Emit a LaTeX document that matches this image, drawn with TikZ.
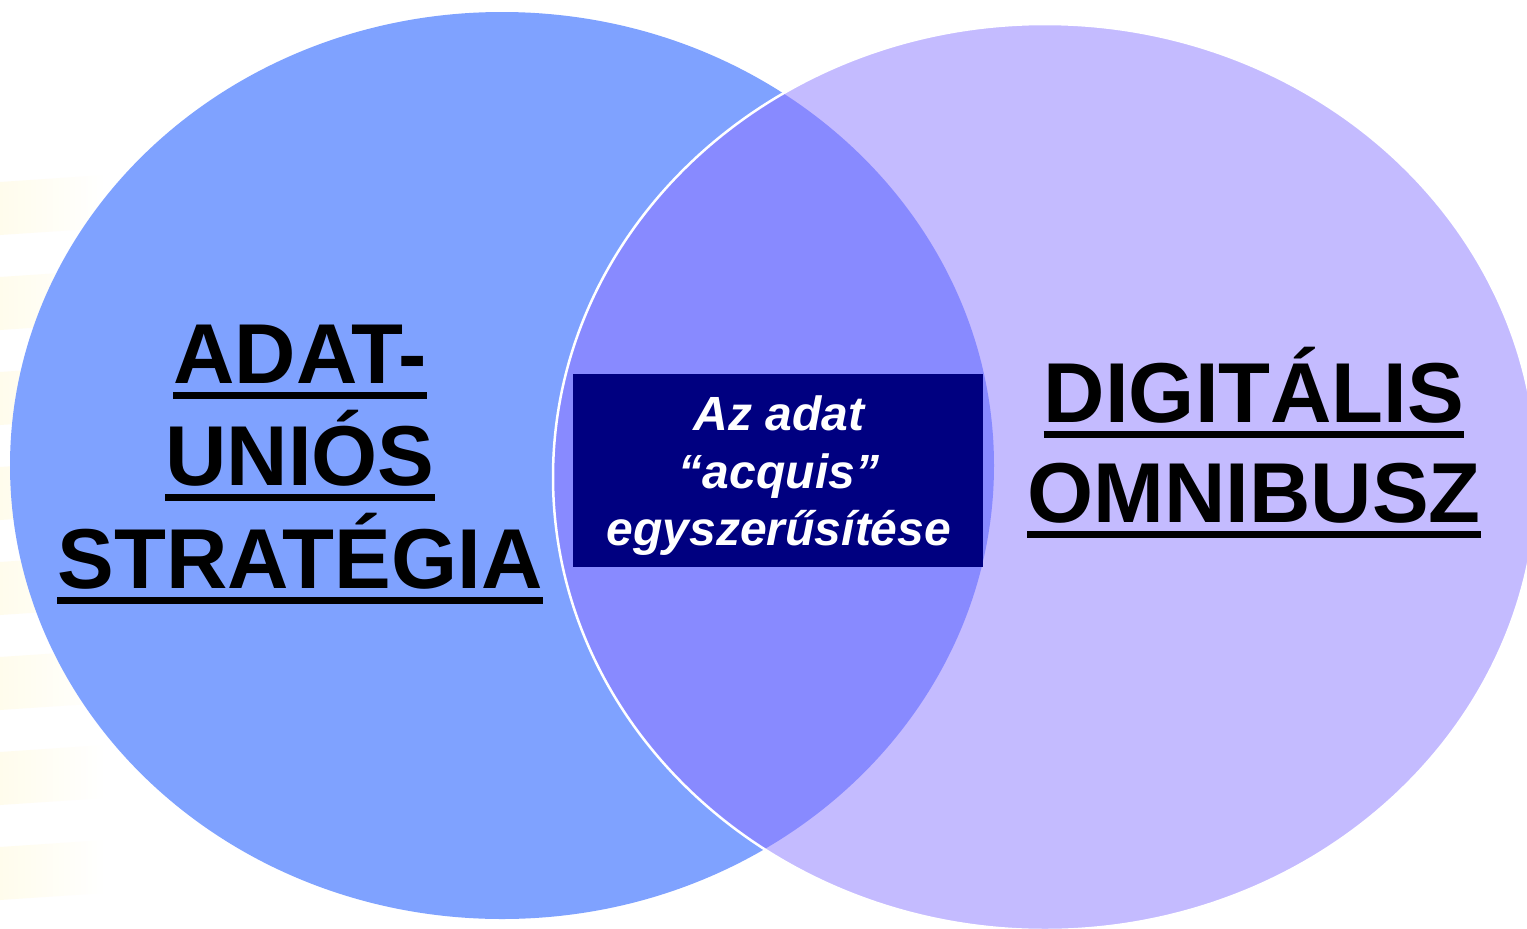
\documentclass[tikz,border=0pt]{standalone}
\usepackage{fontspec}
\setmainfont{Liberation Sans}
\definecolor{leftblue}{RGB}{127,162,255}
\definecolor{rightlilac}{RGB}{196,187,255}
\definecolor{overlapblue}{RGB}{136,138,255}
\definecolor{boxnavy}{RGB}{0,0,128}
\definecolor{stripeyellow}{RGB}{255,252,236}
\tikzset{
  bigtext/.style={anchor=base, inner sep=0pt, text=black,
    font=\fontsize{85}{100}\selectfont\bfseries},
  smalltext/.style={anchor=base, inner sep=0pt, text=white,
    font=\fontsize{48}{57}\selectfont\bfseries\itshape},
  ulline/.style={line width=7.5pt, black},
  stripe/.style={left color=stripeyellow, right color=white},
}
\begin{document}
\begin{tikzpicture}[x=1pt,y=-1pt]
\useasboundingbox (0,0) rectangle (1527,929);
\fill[white] (0,0) rectangle (1527,929);
% faint background stripes
\foreach \y in {182,277,372,467,562,657,752,847}{
  \shade[stripe] (0,\y) -- (105,\y-7) -- (105,\y+46) -- (0,\y+53) -- cycle;
}
% ellipses
\fill[leftblue] (502,465.5) ellipse [x radius=492, y radius=453.5];
\fill[rightlilac] (1045,477) ellipse [x radius=492, y radius=453];
\begin{scope}
  \clip (502,465.5) ellipse [x radius=492, y radius=453.5];
  \fill[overlapblue] (1045,477) ellipse [x radius=492, y radius=453];
\end{scope}
\draw[white, line width=2.5pt] (1045,477) ellipse [x radius=492, y radius=453];
% left text
\node[bigtext] (l1) at (300,383) {ADAT-};
\node[bigtext] (l2) at (300,485) {UNIÓS};
\node[bigtext] (l3) at (300,588) {STRATÉGIA};
\foreach \n in {l1,l2,l3}{
  \draw[ulline] ([yshift=-12.5pt]\n.base west) -- ([yshift=-12.5pt]\n.base east);
}
% right text
\node[bigtext] (r1) at (1254,422) {DIGITÁLIS};
\node[bigtext] (r2) at (1254,522) {OMNIBUSZ};
\foreach \n in {r1,r2}{
  \draw[ulline] ([yshift=-12.5pt]\n.base west) -- ([yshift=-12.5pt]\n.base east);
}
% centre box
\node[fill=boxnavy, minimum width=410pt, minimum height=193pt, inner sep=0pt] (box) at (778,470.5) {};
\node[smalltext] (c1) at (779,430) {Az adat};
\node[smalltext] (c2) at (779,488) {“acquis”};
\node[smalltext] (c3) at (779,545) {egyszerűsítése};
\end{tikzpicture}
\end{document}
